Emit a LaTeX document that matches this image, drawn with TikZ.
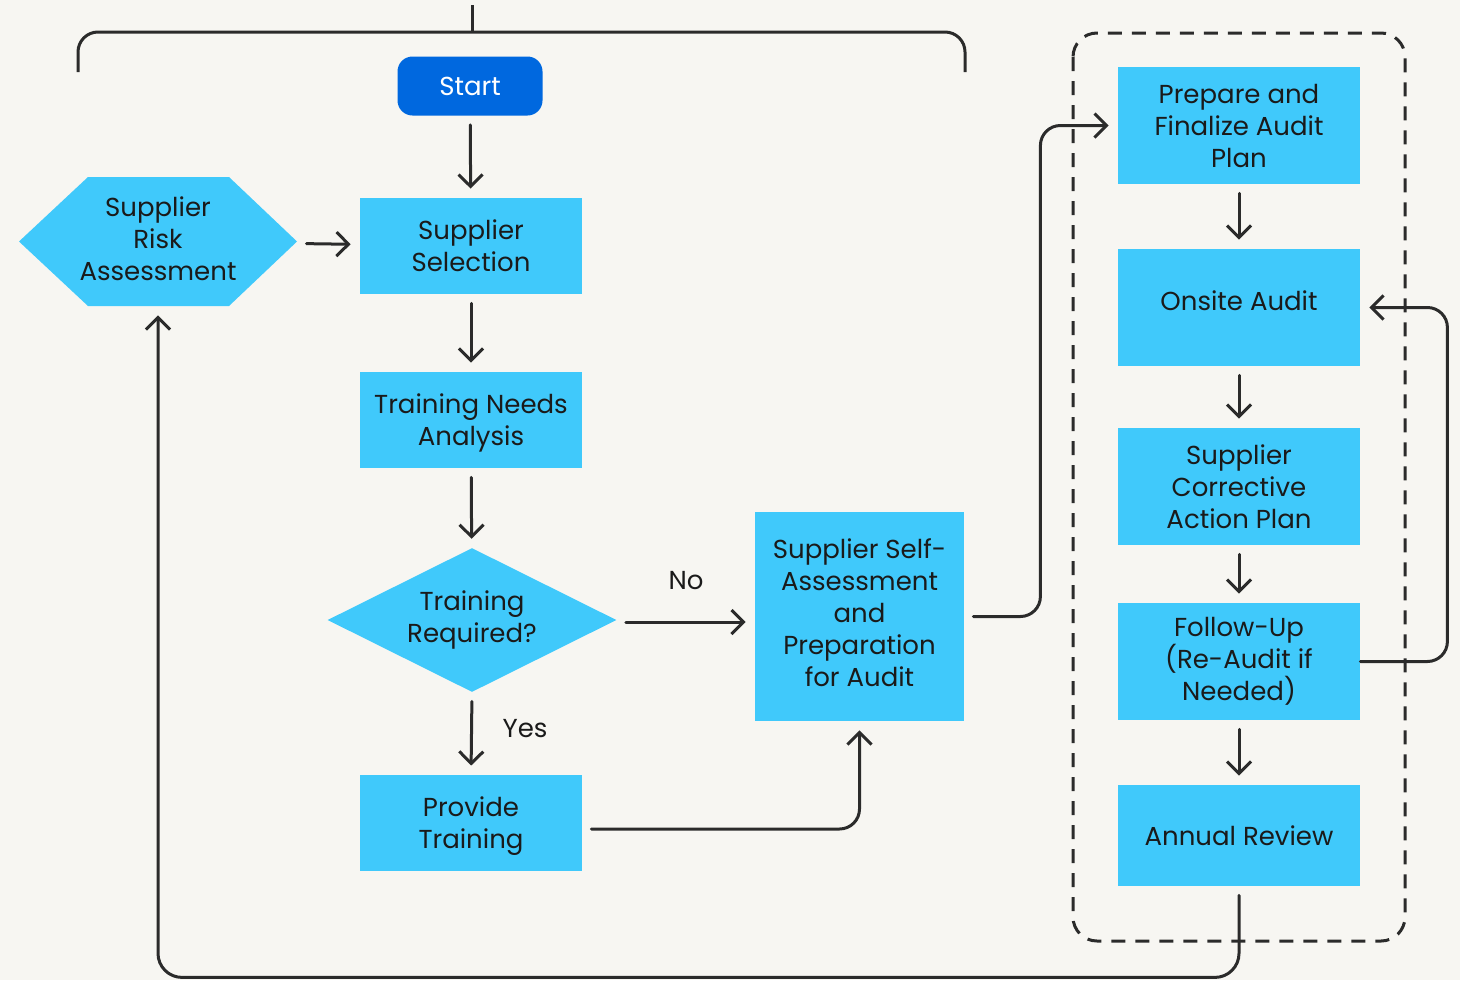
\documentclass[tikz,border=0pt]{standalone}
\usepackage{fontspec}
\setmainfont{Poppins}
\usepackage{tikz}
\usetikzlibrary{shapes.geometric,arrows.meta,calc}
\definecolor{bgpaper}{HTML}{F7F6F2}
\definecolor{boxcyan}{HTML}{40C9FB}
\definecolor{startblue}{HTML}{0068DF}
\definecolor{inkgray}{HTML}{2B2B2B}
\definecolor{txtdark}{HTML}{1A1A1A}

\begin{document}
\begin{tikzpicture}[
  x=0.5pt, y=-0.5pt,
  font=\fontsize{13pt}{16pt}\selectfont, text=txtdark,
  >={Straight Barb[length=6pt,width=12pt]},
  procbox/.style={fill=boxcyan, align=center, inner sep=0pt, text depth=0pt, minimum width=111pt, minimum height=48pt},
  auditbox/.style={fill=boxcyan, align=center, inner sep=0pt, minimum width=121pt, minimum height=58.5pt},
  startbox/.style={fill=startblue, text=white, rounded corners=7.5pt, minimum width=72.5pt, minimum height=29.5pt},
  decision/.style={diamond, aspect=2, fill=boxcyan, align=center, inner sep=0pt, minimum width=144.5pt, minimum height=72pt},
  conn/.style={->, draw=inkgray, line width=1.5pt, line cap=round, line join=round, shorten <=4.5pt, shorten >=4.5pt},
  lbl/.style={inner sep=0pt}
]
\fill[bgpaper] (0,0) rectangle (1460,980);
\useasboundingbox (0,0) rectangle (1460,980);

% -- Bracket across the top, with the tick above Start.
\draw[inkgray, line width=1.5pt, rounded corners=10pt] (78,72) -- (78,32) -- (965,32) -- (965,72);
\draw[inkgray, line width=1.5pt] (472,5) -- (472,32);

% -- Dashed frame round the audit column.
\draw[inkgray, line width=1.5pt, dash pattern=on 7pt off 5pt, rounded corners=12pt] (1073,33) rectangle (1405,941);

% -- Left column.
\node[startbox] (start) at (470,86) {Start};
\node[procbox] (sel) at (471,246) {Supplier\\Selection};
\node[procbox] (tna) at (471,420) {Training Needs\\Analysis};
\node[decision] (dec) at (472,620) {Training\\Required?};
\node[procbox] (train) at (471,823) {Provide\\Training};

% -- Hexagon drawn directly, text node on top.
\fill[boxcyan] (19,241.5) -- (88,177) -- (229,177) -- (297,241.5) -- (229,306) -- (88,306) -- cycle;
\node[align=center, inner sep=0pt, text depth=3pt, minimum width=139pt, minimum height=64.5pt] (risk) at (158,241.5) {Supplier\\Risk\\Assessment};

\node[fill=boxcyan, align=center, inner sep=0pt, text depth=4pt, minimum width=104.5pt, minimum height=104.5pt] (self) at (859.5,616.5)
  {Supplier Self-\\Assessment\\and\\Preparation\\for Audit};

% -- Audit column.
\node[auditbox] (plan) at (1239,125.5) {Prepare and\\Finalize Audit\\Plan};
\node[auditbox, text depth=7pt] (onsite) at (1239,307.5) {Onsite Audit};
\node[auditbox] (cap) at (1239,486.5) {Supplier\\Corrective\\Action Plan};
\node[auditbox] (follow) at (1239,661.5) {Follow-Up\\(Re-Audit if\\Needed)};
\node[auditbox, minimum height=50.5pt] (annual) at (1239,835.5) {Annual Review};

% -- Labels.
\node[lbl] (nolbl) at (686,581) {No};
\node[lbl] (yeslbl) at (525,729) {Yes};

% -- Connectors.
\draw[conn] (start) -- (sel);
\draw[conn] (risk) -- (sel);
\draw[conn] (sel) -- (tna);
\draw[conn] (tna) -- (dec);
\draw[conn] ([yshift=-1pt]dec.east) -- ([yshift=-1pt]dec.east -| self.west);
\draw[conn] (dec.south) -- (train.north);
\draw[conn, rounded corners=10pt] ([yshift=-3pt]train.east) -| (self.south);
\draw[conn, rounded corners=10pt] (self.east) -- ++(76,0) |- (plan.west);
\draw[conn] (plan) -- (onsite);
\draw[conn] (onsite) -- (cap);
\draw[conn] (cap) -- (follow);
\draw[conn] (follow) -- (annual);
\draw[conn, rounded corners=10pt, shorten <=0pt] (follow.east) -- ++(87,0) |- (onsite.east);
\draw[conn, rounded corners=12pt] (annual.south) -- ++(0,91) -| (risk.south);
\end{tikzpicture}
\end{document}
